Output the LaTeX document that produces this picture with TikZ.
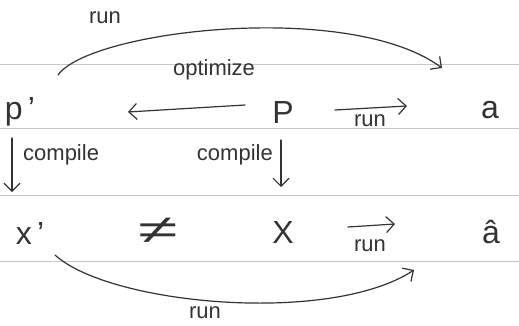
\documentclass[tikz,border=0pt]{standalone}
\usepackage{fontspec}
\setmainfont{Liberation Sans}
\usetikzlibrary{arrows.meta}
\tikzset{
  rule/.style={draw=black!22, line width=0.8pt},
  pen/.style={draw=black!80, line width=1.2pt, line cap=round},
  tip/.style={-{Straight Barb[length=8pt,width=16pt,line width=1.2pt]}},
  sym/.style={font=\fontsize{32}{34}\selectfont, text=black!80, inner sep=1pt},
  lbl/.style={font=\fontsize{22}{24}\selectfont, text=black!80, inner sep=1pt}
}
\begin{document}
\begin{tikzpicture}[x=1pt,y=-1pt]
\useasboundingbox (0,0) rectangle (519,326);
\fill[white] (0,0) rectangle (519,326);
\foreach \yy in {64,128,195,261} \draw[rule] (0,\yy) -- (519,\yy);
% nodes
\node[sym] (pp) at (20,112) {p\,'};
\node[sym] (p) at (283,112) {P};
\node[sym] (a) at (490,110) {a};
\node[sym] (xx) at (30,233) {x\,'};
\node[sym] (x) at (283,232) {X};
\node[sym] (ah) at (491,232) {â};
% helper coordinates
\coordinate (t1) at (58,75);
\coordinate (t2) at (442,68);
\coordinate (b1) at (55,255);
\coordinate (b2) at (414,270);
\coordinate (o1) at (245,105);
\coordinate (o2) at (128,112);
\coordinate (r1) at (335,110);
\coordinate (r2) at (407,106);
\coordinate (s1) at (348,227);
\coordinate (s2) at (395,224);
\coordinate (c1) at (12,138);
\coordinate (c2) at (12,192);
\coordinate (d1) at (281,140);
\coordinate (d2) at (281,187);
% connectors
\draw[pen,tip] (t1) .. controls (90,30) and (350,0) .. (t2);
\node[lbl] (runtop) at (105,18) {run};
\node[lbl] (opt) at (214,70) {optimize};
\draw[pen,tip] (o1) -- (o2);
\draw[pen,tip] (r1) -- (r2);
\node[lbl] (run1) at (370,121) {run};
\draw[pen,tip] (c1) -- (c2);
\node[lbl,anchor=west] (comp1) at (22,155) {compile};
\draw[pen,tip] (d1) -- (d2);
\node[lbl,anchor=east] (comp2) at (274,155) {compile};
\node[font=\fontsize{40}{42}\selectfont, text=black!80, inner sep=0pt] (neq) at (158,231) {\scalebox{1.8}[1]{≠}};
\draw[pen,tip] (s1) -- (s2);
\node[lbl] (run2) at (370,246) {run};
\draw[pen,tip] (b1) .. controls (110,305) and (330,325) .. (b2);
\node[lbl] (runbot) at (205,313) {run};
\end{tikzpicture}
\end{document}
